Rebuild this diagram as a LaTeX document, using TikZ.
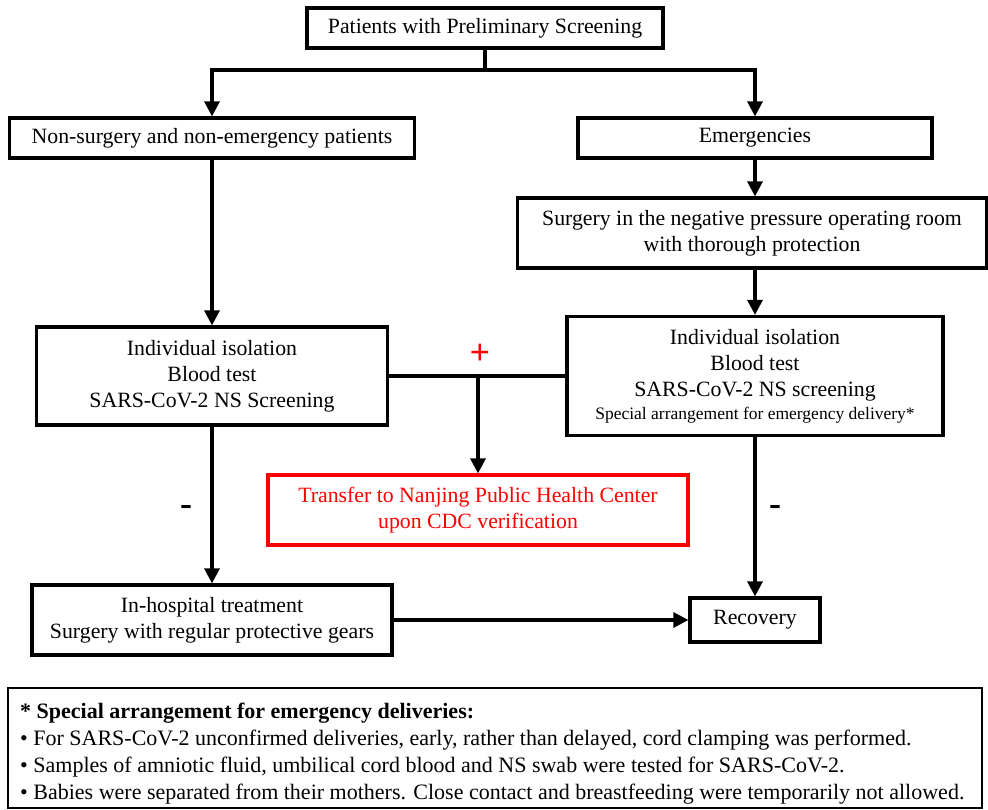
\documentclass[tikz,border=0pt]{standalone}
\usepackage{fontspec}
\setmainfont{Liberation Serif}
\usetikzlibrary{arrows.meta}

\tikzset{
  box/.style={draw, line width=3.2pt, inner sep=0pt, align=center, font=\fontsize{21.8}{26}\selectfont},
  arr/.style={line width=3.2pt, -{Triangle[length=15pt, width=15pt]}},
  link/.style={line width=3.2pt}
}

\begin{document}
\begin{tikzpicture}[x=1pt, y=-1pt]
  \useasboundingbox (0,0) rectangle (988,810);

  % 顶部筛查框
  \node[box, minimum width=356, minimum height=40] (screen) at (485,28) {Patients with Preliminary Screening};

  % 第二层：两类患者
  \node[box, minimum width=405, minimum height=40] (nonsurg) at (212,138) {Non-surgery and non-emergency patients};
  \node[box, minimum width=354, minimum height=40] (emerg) at (755,138) {Emergencies};

  % 急诊手术
  \node[box, minimum width=469, minimum height=70] (surgery) at (752,233) {Surgery in the negative pressure operating room\\with thorough protection};

  % 隔离与检测
  \node[box, minimum width=351, minimum height=98] (isoleft) at (212,376) {Individual isolation\\Blood test\\SARS-CoV-2 NS Screening};
  \node[box, minimum width=376, minimum height=119] (isoright) at (755,376) {Individual isolation\\Blood test\\SARS-CoV-2 NS screening\\[-3pt]{\fontsize{17.5}{20}\selectfont Special arrangement for emergency delivery*}};

  % 阳性转运（红色）
  \node[box, draw=red, text=red, minimum width=420, minimum height=70] (transfer) at (478,510) {Transfer to Nanjing Public Health Center\\upon CDC verification};

  % 阴性结果
  \node[box, minimum width=360, minimum height=70] (inhosp) at (212,620) {In-hospital treatment\\Surgery with regular protective gears};
  \node[box, minimum width=130, minimum height=44] (recovery) at (755,620) {Recovery};

  % 底部说明
  \node[draw, line width=2.4pt, minimum width=974, minimum height=120] (notes) at (495,748) {};
  \node[anchor=north west, inner sep=0pt, align=left, font=\fontsize{22}{27}\selectfont] (notetext) at (20,703)
    {\textbf{* Special arrangement for emergency deliveries:}\\
     • For SARS-CoV-2 unconfirmed deliveries, early, rather than delayed, cord clamping was performed.\\
     • Samples of amniotic fluid, umbilical cord blood and NS swab were tested for SARS-CoV-2.\\
     • Babies were separated from their mothers. Close contact and breastfeeding were temporarily not allowed.};

  % 连线
  \coordinate (split) at (485,70);
  \draw[link] (screen.south) -- (split);
  \draw[arr] (split) -| (nonsurg.north);
  \draw[arr] (split) -| (emerg.north);
  \draw[arr] (emerg.south) -- (emerg.south |- surgery.north);
  \draw[arr] (isoright.north |- surgery.south) -- (isoright.north);
  \draw[arr] (nonsurg.south) -- (isoleft.north);
  \draw[link] (isoleft.east) -- (isoright.west);
  \draw[arr] (transfer.north |- isoleft.east) -- (transfer.north);
  \draw[arr] (isoleft.south) -- (inhosp.north);
  \draw[arr] (isoright.south) -- (recovery.north);
  \draw[arr] (inhosp.east) -- (recovery.west);

  % 正负号
  \node[text=red, font=\fontsize{36}{36}\selectfont\bfseries] (plus) at (480,354) {+};
  \node[font=\fontsize{36}{36}\selectfont\bfseries] (minusleft) at (186,510) {-};
  \node[font=\fontsize{36}{36}\selectfont\bfseries] (minusright) at (775,510) {-};
\end{tikzpicture}
\end{document}
